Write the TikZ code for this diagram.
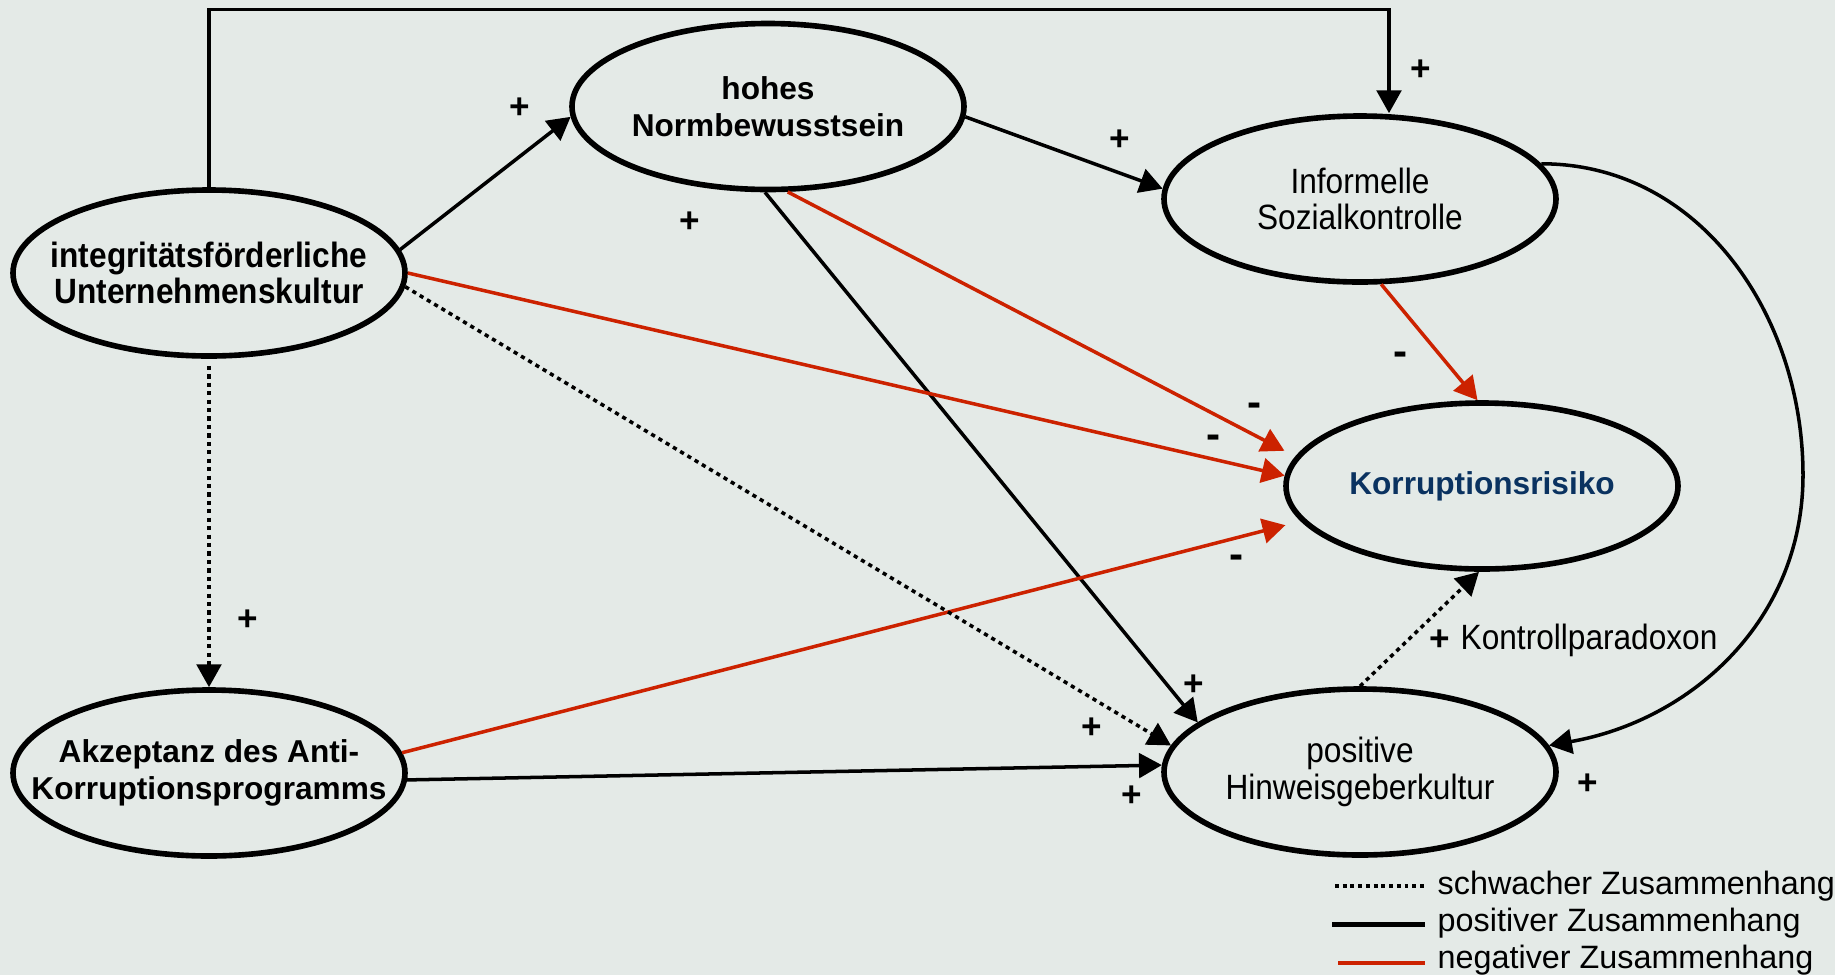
\documentclass[tikz,border=0pt]{standalone}
\usepackage{fontspec}
\setmainfont{Liberation Sans}
\newfontfamily\narrowfont[FakeStretch=0.9]{Liberation Sans}
\usetikzlibrary{shapes.geometric, arrows.meta}

\definecolor{bgcol}{RGB}{228,234,231}
\definecolor{negred}{RGB}{204,34,0}
\definecolor{risknavy}{RGB}{10,50,96}

\begin{document}
\begin{tikzpicture}[
        construct/.style={ellipse, draw=black, line width=1.6pt, minimum width=3.92cm,
            minimum height=1.66cm, inner sep=-1cm, align=center},
        plainbold/.style={font=\bfseries\fontsize{9}{10.4}\selectfont},
        narrowbold/.style={font=\narrowfont\bfseries\fontsize{10}{10.3}\selectfont},
        narrowplain/.style={font=\narrowfont\fontsize{10}{10.3}\selectfont},
        link/.style={line width=1pt, -{Triangle[length=6.5pt, width=7pt]}},
        weak/.style={link, dash pattern=on 1.2pt off 1.2pt},
        neg/.style={link, negred},
        sign/.style={font=\bfseries\fontsize{10}{12}\selectfont, inner sep=0pt},
        minus/.style={font=\bfseries\fontsize{12}{14}\selectfont, inner sep=0pt},
        legendtxt/.style={anchor=west, inner sep=0pt, font=\fontsize{9.2}{11}\selectfont}
    ]
        % --- Cadre et fond ---
        \useasboundingbox (0,0) rectangle (18.35,-9.75);
        \fill[bgcol] (0,0) rectangle (18.35,-9.75);

        % ==============================================================
        % Konstrukte
        % ==============================================================
        \node[construct, narrowbold] (kultur) at (2.09,-2.73) {integritätsförderliche\\Unternehmenskultur};
        \node[construct, plainbold] (norm) at (7.68,-1.065) {hohes\\Normbewusstsein};
        \node[construct, narrowplain] (sozial) at (13.60,-1.99) {Informelle\\Sozialkontrolle};
        \node[construct, plainbold, text=risknavy] (risiko) at (14.82,-4.86) {Korruptionsrisiko};
        \node[construct, plainbold] (akzeptanz) at (2.09,-7.73) {Akzeptanz des Anti-\\Korruptionsprogramms};
        \node[construct, narrowplain] (hinweis) at (13.60,-7.72) {positive\\Hinweisgeberkultur};

        % --- Hilfspunkte ---
        \coordinate (topR) at (13.89,-0.094);   % Ecke oben rechts
        \coordinate (loopR) at (18.03,-4.75);   % rechter Bogen

        % ==============================================================
        % Zusammenhaenge
        % ==============================================================
        % Kultur -> Sozialkontrolle (oben herum)
        \draw[link] (kultur.north) |- (topR) -- (topR |- sozial.north);
        \node[sign] (pTop) at (14.21,-0.70) {+};

        % Kultur -> Normbewusstsein
        \draw[link] (kultur.7) -- (norm.183);
        \node[sign] (pKN) at (5.20,-1.08) {+};

        % Normbewusstsein -> Sozialkontrolle
        \draw[link] (norm.357) -- (sozial.177);
        \node[sign] (pNS) at (11.20,-1.40) {+};

        % Normbewusstsein -> Hinweisgeberkultur
        \draw[link] (norm.268) -- (hinweis.163);
        \node[sign] (pNH) at (6.90,-2.22) {+};
        \node[sign] (pNH2) at (11.94,-6.85) {+};

        % negative Pfade auf das Risiko
        \draw[neg, shorten >=3.5pt] (norm.283) -- (risiko.171);
        \node[minus] (mNR) at (12.55,-4.10) {-};
        \draw[neg] (kultur.0) -- (risiko.177);
        \node[minus] (mKR) at (12.14,-4.42) {-};
        \draw[neg, shorten >=4.5pt] (akzeptanz.6) -- (risiko.191);
        \node[minus] (mAR) at (12.37,-5.62) {-};
        \draw[neg] (sozial.284) -- (risiko.93);
        \node[minus] (mSR) at (14.01,-3.59) {-};

        % schwache Zusammenhaenge
        \draw[weak] (kultur.356) -- (hinweis.172);
        \node[sign] (pKH) at (10.92,-7.28) {+};
        \draw[weak, shorten <=2pt] (kultur.south) -- (akzeptanz.north);
        \node[sign] (pKA) at (2.48,-6.20) {+};
        \draw[weak] (hinweis.north) -- (risiko.268);
        \node[sign] (pHR) at (14.40,-6.40) {+};
        \node[narrowplain, anchor=west, inner sep=0pt] (paradox) at (14.60,-6.40) {Kontrollparadoxon};

        % Akzeptanz -> Hinweisgeberkultur
        \draw[link] (akzeptanz.358) -- (hinweis.178);
        \node[sign] (pAH) at (11.32,-7.96) {+};

        % Sozialkontrolle -> Hinweisgeberkultur (Bogen rechts)
        \draw[link] (sozial.11) to[out=0, in=90] (loopR) to[out=-90, in=10] (hinweis.8);
        \node[sign] (pSH) at (15.88,-7.84) {+};

        % ==============================================================
        % Legende
        % ==============================================================
        \coordinate (lgWeakA) at (13.35,-8.86);
        \coordinate (lgWeakB) at (14.25,-8.86);
        \coordinate (lgPosA) at (13.32,-9.245);
        \coordinate (lgPosB) at (14.25,-9.245);
        \coordinate (lgNegA) at (13.38,-9.63);
        \coordinate (lgNegB) at (14.25,-9.63);
        \draw[line width=1.3pt, dash pattern=on 1.1pt off 1.1pt] (lgWeakA) -- (lgWeakB);
        \draw[line width=1.3pt] (lgPosA) -- (lgPosB);
        \draw[line width=1.3pt, negred] (lgNegA) -- (lgNegB);
        \node[legendtxt] (lgWeak) at (14.37,-8.86) {schwacher Zusammenhang};
        \node[legendtxt] (lgPos) at (14.37,-9.23) {positiver Zusammenhang};
        \node[legendtxt] (lgNeg) at (14.37,-9.60) {negativer Zusammenhang};
\end{tikzpicture}
\end{document}
